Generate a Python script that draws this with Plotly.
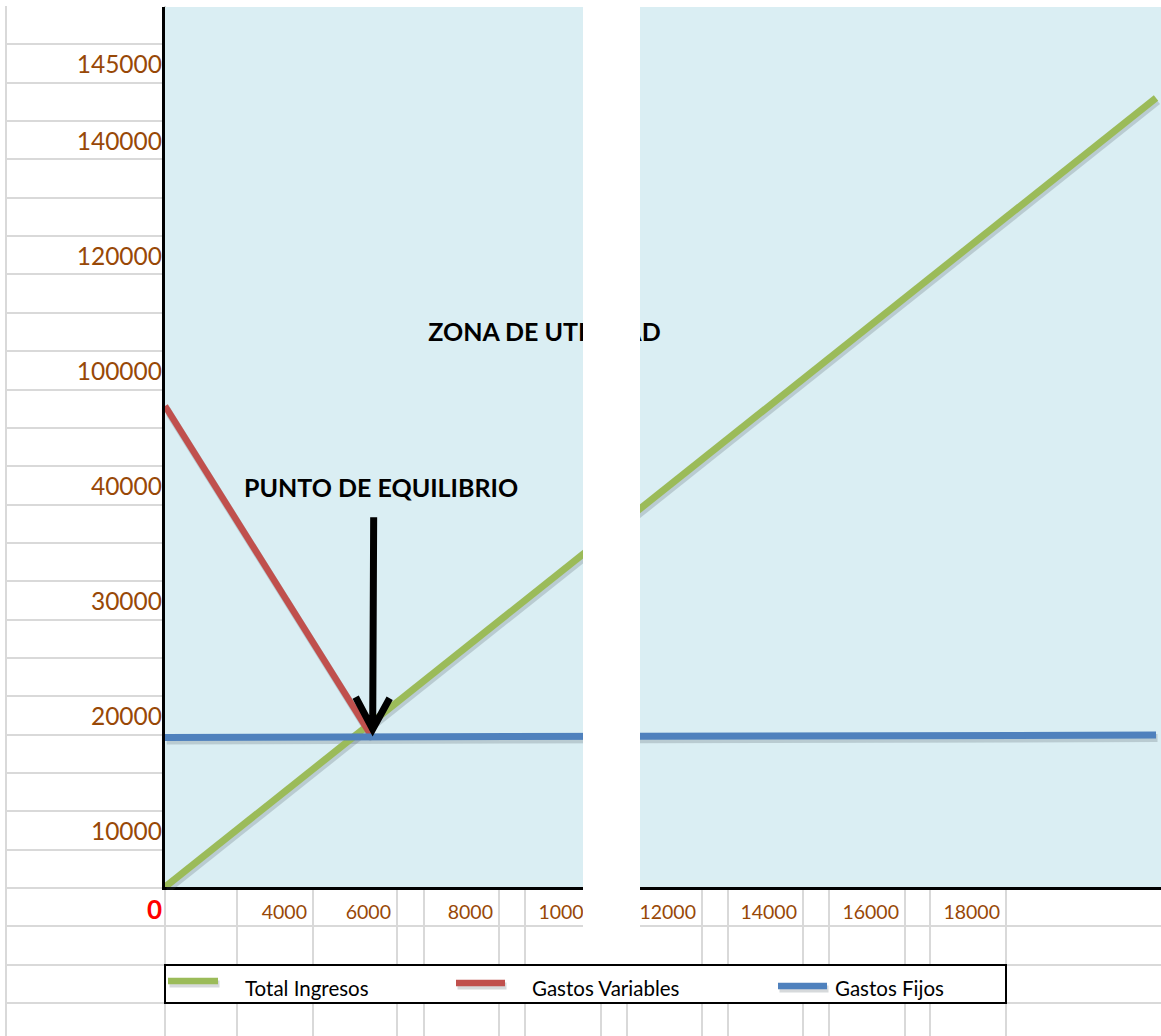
import plotly.graph_objects as go

# ---- series (units sold -> amount) ----
x_ingresos = [0, 19900]
total_ingresos = [0, 134500]

x_variables = [0, 4150]
gastos_variables = [82000, 25700]

x_fijos = [0, 19900]
gastos_fijos = [25500, 25900]

# ---- worksheet cell labels ----
y_labels = ["145000", "140000", "120000", "100000", "40000", "30000", "20000", "10000"]
x_labels = ["4000", "6000", "8000", "10000", "12000", "14000", "16000", "18000"]
zero_label = "0"

legend_names = ["Total Ingresos", "Gastos Variables", "Gastos Fijos"]

# ---- colours ----
GREEN = "#9BBB59"
RED = "#C0504D"
BLUE = "#4F81BD"
SHADOW = "rgba(70,80,90,0.22)"
CHART_BG = "#DAEEF3"
GRID = "#D9D9D9"
CELL_TXT = "#984807"
FONT = "Lato"

# ---- worksheet geometry (pixels / rows) ----
W, H = 1161, 1036
ROW_H = 38.35
TOP = 6
N_ROWS = 27
col_edges = [165, 237, 313, 397, 424, 499, 525, 601, 627, 702, 728, 803, 829, 905, 930, 1006]
y_label_rows = [1, 3, 6, 9, 12, 15, 18, 21]
x_label_cols = [313, 397, 499, 601, 702, 803, 905, 1006]

CH_L, CH_T, CH_B = 165, 7, 887  # chart plot area edges
X_RANGE = [0, 20000]
Y_RANGE = [0, 150000]
SH_DX, SH_DY = 1.5, 3  # drop-shadow offset in pixels

grid_y_range = [(H - TOP) / ROW_H, 0]
grid_y_dom = [0, (H - TOP) / H]

chart_x_dom = [CH_L / W, 1]
chart_y_dom = [(H - CH_B) / H, (H - CH_T) / H]
# shadow copy: same scale, shifted right/down, clipped at the page edge
chart_w = W - CH_L
shadow_x_dom = [(CH_L + SH_DX) / W, 1]
shadow_x_range = [X_RANGE[0], X_RANGE[1] * (chart_w - SH_DX) / chart_w]
shadow_y_dom = [(H - CH_B - SH_DY) / H, (H - CH_T - SH_DY) / H]

fig = go.Figure()

# empty traces so the worksheet axes and chart frame get their subplots
for xa, ya in [("x", "y"), ("x3", "y"), ("x", "y3"), ("x2", "y2")]:
    fig.add_trace(go.Scatter(x=[], y=[], xaxis=xa, yaxis=ya, showlegend=False, hoverinfo="skip"))

series = [
    (x_ingresos, total_ingresos, GREEN, 7, legend_names[0]),
    (x_variables, gastos_variables, RED, 6.5, legend_names[1]),
    (x_fijos, gastos_fijos, BLUE, 7, legend_names[2]),
]

# soft drop shadows (same data on a slightly offset copy of the chart axes)
for xs, ys, color, width, name in series:
    fig.add_trace(go.Scatter(x=xs, y=ys, mode="lines", line=dict(color=SHADOW, width=width + 1),
                             xaxis="x4", yaxis="y4", showlegend=False, hoverinfo="skip"))

# chart lines
for xs, ys, color, width, name in series:
    fig.add_trace(go.Scatter(x=xs, y=ys, mode="lines", line=dict(color=color, width=width),
                             xaxis="x5", yaxis="y5", name=name, showlegend=False))

# zone caption (inside the plot so the overlay strip can hide part of it)
fig.add_trace(go.Scatter(x=[7620], y=[94100], mode="text", text=["<b>ZONA DE UTILIDAD</b>"],
                         textfont=dict(family=FONT, size=25, color="black"),
                         xaxis="x5", yaxis="y5", showlegend=False, hoverinfo="skip"))

hidden = dict(showgrid=False, zeroline=False, showticklabels=False, ticks="",
              showline=False, fixedrange=True)

fig.update_layout(
    width=W, height=H,
    margin=dict(l=0, r=0, t=0, b=0),
    paper_bgcolor="white", plot_bgcolor="rgba(0,0,0,0)",
    showlegend=False,
    # worksheet grid
    xaxis=dict(domain=[7 / W, 1], range=[7, W], tickmode="array", tickvals=col_edges,
               showgrid=True, gridcolor=GRID, gridwidth=2, showticklabels=False,
               ticks="", zeroline=False, showline=False, fixedrange=True),
    yaxis=dict(domain=grid_y_dom, range=grid_y_range, tickmode="array",
               tickvals=list(range(N_ROWS)), showgrid=True, gridcolor=GRID, gridwidth=2,
               showticklabels=False, ticks="", zeroline=False,
               showline=True, linecolor=GRID, linewidth=2, fixedrange=True),
    # cell labels along the bottom row
    xaxis3=dict(overlaying="x", range=[7, W], anchor="free",
                position=(H - CH_B) / H, side="bottom",
                tickmode="array",
                tickvals=[c - 6 for c in x_label_cols] + [162],
                ticktext=x_labels + [f"<b><span style='color:#FF0000;font-size:26px'>{zero_label}</span></b>"],
                ticklabelposition="outside left", ticks="", ticklabelstandoff=11,
                tickfont=dict(family=FONT, size=19.5, color=CELL_TXT),
                showgrid=False, zeroline=False, showline=False, fixedrange=True),
    # cell labels in the left column
    yaxis3=dict(overlaying="y", range=grid_y_range, anchor="free", position=CH_L / W,
                side="left", tickmode="array",
                tickvals=[r + 0.52 for r in y_label_rows], ticktext=y_labels,
                ticks="", ticklabelstandoff=3,
                tickfont=dict(family=FONT, size=24.5, color=CELL_TXT),
                showgrid=False, zeroline=False, showline=False, fixedrange=True),
    # chart frame (background + black axis lines)
    xaxis2=dict(domain=chart_x_dom, range=X_RANGE, anchor="y2",
                showgrid=False, zeroline=False, showticklabels=False, ticks="",
                showline=True, linecolor="black", linewidth=2.5, fixedrange=True),
    yaxis2=dict(domain=chart_y_dom, range=Y_RANGE, anchor="x2",
                showgrid=False, zeroline=False, showticklabels=False, ticks="",
                showline=True, linecolor="black", linewidth=2.5, fixedrange=True),
    # shadow copy
    xaxis4=dict(domain=shadow_x_dom, range=shadow_x_range, anchor="y4", **hidden),
    yaxis4=dict(domain=shadow_y_dom, range=Y_RANGE, anchor="x4", **hidden),
    # series
    xaxis5=dict(domain=chart_x_dom, range=X_RANGE, anchor="y5", **hidden),
    yaxis5=dict(domain=chart_y_dom, range=Y_RANGE, anchor="x5", **hidden),
)

shapes = []
# chart background
shapes.append(dict(type="rect", xref="x2", yref="y2", x0=X_RANGE[0], x1=X_RANGE[1],
                   y0=Y_RANGE[0], y1=Y_RANGE[1],
                   fillcolor=CHART_BG, line=dict(width=0), layer="below"))
# blank margin above the chart
shapes.append(dict(type="rect", xref="paper", yref="paper",
                   x0=(CH_L + 2) / W, x1=1, y0=(H - CH_T) / H, y1=1,
                   fillcolor="white", line=dict(width=0), layer="above"))
# white overlay strip
shapes.append(dict(type="rect", xref="paper", yref="paper",
                   x0=583 / W, x1=640 / W, y0=(H - 965) / H, y1=1,
                   fillcolor="white", line=dict(width=0), layer="above"))
# legend box
shapes.append(dict(type="rect", xref="paper", yref="paper",
                   x0=165 / W, x1=1006 / W, y0=(H - 1003) / H, y1=(H - 965) / H,
                   fillcolor="white", line=dict(color="black", width=2), layer="above"))
# legend keys with their shadows
keys = [(GREEN, 168, 218, 981), (RED, 456, 505, 983), (BLUE, 778, 827, 986)]
for color, xa, xb, yy in keys:
    shapes.append(dict(type="line", xref="paper", yref="paper",
                       x0=(xa + SH_DX) / W, x1=(xb + SH_DX) / W,
                       y0=(H - yy - SH_DY) / H, y1=(H - yy - SH_DY) / H,
                       line=dict(color=SHADOW, width=7), layer="above"))
    shapes.append(dict(type="line", xref="paper", yref="paper",
                       x0=xa / W, x1=xb / W, y0=(H - yy) / H, y1=(H - yy) / H,
                       line=dict(color=color, width=6.5), layer="above"))
# arrow pointing down at the break-even point
shapes.append(dict(type="path", xref="x5", yref="y5", xsizemode="pixel", ysizemode="pixel",
                   xanchor=x_variables[-1], yanchor=gastos_variables[-1],
                   path="M2,219 L1,8 M-16,39 L1,7 L18,38",
                   line=dict(color="black", width=7), layer="above"))
fig.update_layout(shapes=shapes)

annotations = [
    dict(xref="x5", yref="y5", x=x_variables[-1], y=gastos_variables[-1], xshift=9, yshift=249,
         text="<b>PUNTO DE EQUILIBRIO</b>", showarrow=False,
         font=dict(family=FONT, size=25, color="black")),
]
for name, x_left in zip(legend_names, [243, 530, 833]):
    annotations.append(dict(xref="paper", yref="paper", x=x_left / W, y=(H - 988) / H,
                            xanchor="left", yanchor="middle", text=name, showarrow=False,
                            font=dict(family=FONT, size=20.5, color="black")))
fig.update_layout(annotations=annotations)

fig.write_html("out.html", config={"displayModeBar": False})
